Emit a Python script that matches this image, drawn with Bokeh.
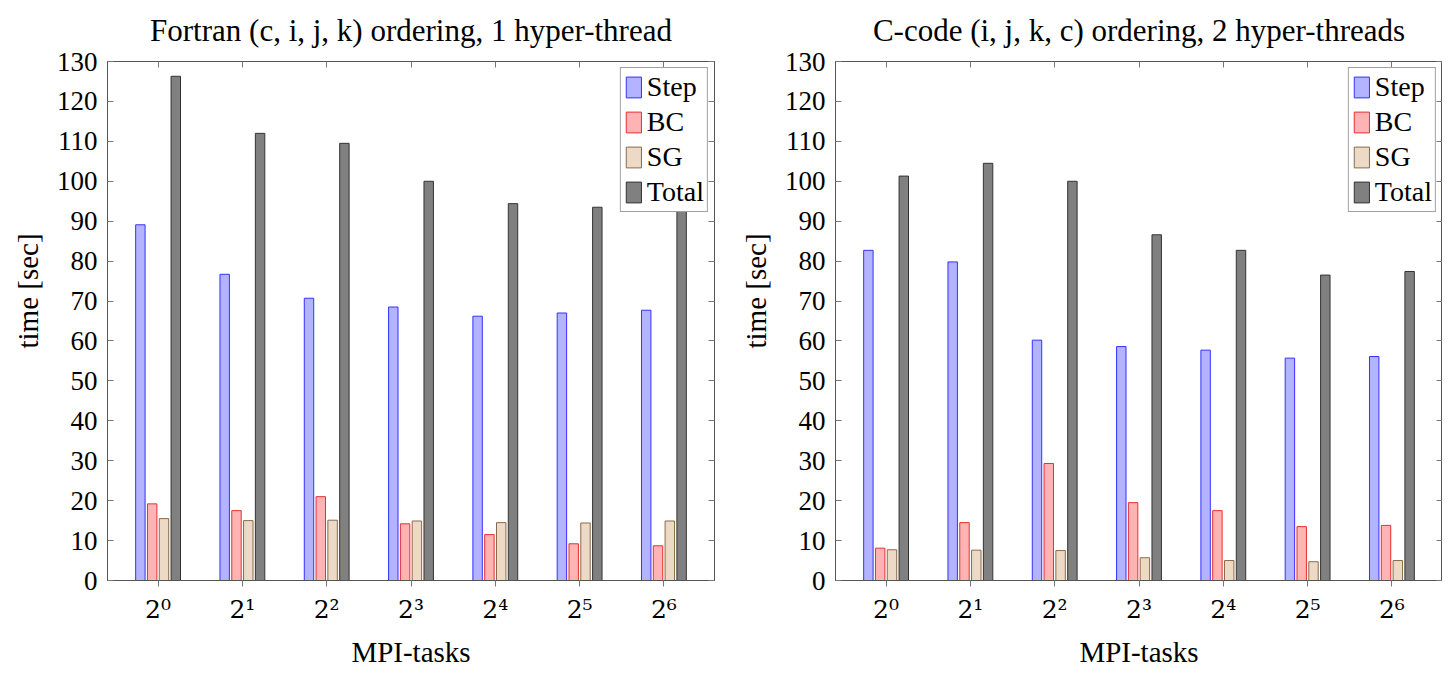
from bokeh.plotting import figure
from bokeh.models import (ColumnDataSource, Range1d, FixedTicker, LinearAxis, Legend,
                          LegendItem, Title)
from bokeh.layouts import row
from bokeh.transform import dodge
from bokeh.embed import file_html
from bokeh.resources import INLINE

# ---- data -------------------------------------------------------------
mpi_tasks = ["2⁰", "2¹", "2²", "2³", "2⁴", "2⁵", "2⁶"]

fortran_step = [89.1, 76.7, 70.7, 68.5, 66.2, 67.0, 67.7]
fortran_bc = [19.2, 17.5, 21.0, 14.2, 11.5, 9.2, 8.7]
fortran_sg = [15.5, 15.0, 15.1, 14.9, 14.5, 14.4, 14.9]
fortran_total = [126.3, 112.0, 109.5, 100.0, 94.4, 93.5, 93.5]

c_step = [82.7, 79.8, 60.2, 58.6, 57.7, 55.7, 56.1]
c_bc = [8.1, 14.5, 29.3, 19.5, 17.5, 13.5, 13.8]
c_sg = [7.7, 7.6, 7.5, 5.7, 5.0, 4.7, 5.0]
c_total = [101.3, 104.5, 100.0, 86.6, 82.7, 76.5, 77.4]

y_ticks = list(range(0, 131, 10))
series_names = ["Step", "BC", "SG", "Total"]

# ---- styles -----------------------------------------------------------
FONT = "Liberation Serif"
TICK_FONT = "DejaVu Serif"
fills = ["#b3b3ff", "#ffb3b3", "#ecdac6", "#808080"]
lines = ["#3333ff", "#e83030", "#8c6a48", "#333333"]
offsets = [-0.21, -0.07, 0.07, 0.21]
BAR_W = 0.112
AX_COL = "#555555"
TICK_COL = "#777777"
FW, FH = 607, 519


def mirror_axis(ticks):
    return LinearAxis(ticker=FixedTicker(ticks=ticks), major_tick_in=6, major_tick_out=0,
                      minor_tick_line_color=None, major_label_text_font_size="1px",
                      major_label_text_color=None, major_label_standoff=0,
                      axis_line_color=AX_COL, major_tick_line_color=TICK_COL)


def make_fig(title, step, bc, sg, total, border_left, border_right):
    idx = list(range(len(mpi_tasks)))
    src = ColumnDataSource(dict(x=idx, Step=step, BC=bc, SG=sg, Total=total))
    p = figure(frame_width=FW, frame_height=FH, output_backend="svg", toolbar_location=None,
               x_range=Range1d(-0.6, 6.6), y_range=Range1d(0, 130),
               min_border_left=border_left, min_border_right=border_right,
               min_border_top=54, min_border_bottom=10)
    p.title.text = title
    p.title.text_font = FONT
    p.title.text_font_size = "31px"
    p.title.text_font_style = "normal"
    p.title.align = "center"
    p.title.text_color = "black"
    p.title.standoff = 24
    p.title.vertical_align = "top"

    items = []
    for name, fc, lc, off in zip(series_names, fills, lines, offsets):
        r = p.vbar(x=dodge("x", off), top=name, width=BAR_W, bottom=0, source=src,
                   fill_color=fc, line_color=lc, line_width=1)
        items.append(LegendItem(label=name, renderers=[r]))

    p.xgrid.visible = False
    p.ygrid.visible = False
    p.outline_line_color = AX_COL
    p.outline_line_width = 1
    p.background_fill_color = "white"
    p.border_fill_color = "white"

    # bottom axis
    xa = p.xaxis[0]
    xa.ticker = FixedTicker(ticks=idx)
    xa.major_label_overrides = {i: lab for i, lab in zip(idx, mpi_tasks)}
    xa.axis_label = "MPI-tasks"
    xa.major_tick_in = 0
    xa.major_tick_out = 6
    xa.major_label_standoff = 8
    xa.axis_label_standoff = 9
    xa.major_label_text_font = TICK_FONT
    xa.major_label_text_font_size = "25px"
    # left axis
    ya = p.yaxis[0]
    ya.ticker = FixedTicker(ticks=y_ticks)
    ya.major_tick_in = 6
    ya.major_tick_out = 0
    ya.major_label_standoff = 10
    ya.major_label_text_font = FONT
    ya.major_label_text_font_size = "27px"
    for ax in (xa, ya):
        ax.minor_tick_line_color = None
        ax.major_label_text_color = "black"
        ax.axis_label_text_font = FONT
        ax.axis_label_text_font_size = "29px"
        ax.axis_label_text_font_style = "normal"
        ax.axis_label_text_color = "black"
        ax.axis_line_color = AX_COL
        ax.major_tick_line_color = TICK_COL

    # y label placed slightly above the frame centre, as in the reference
    ylab = Title(text="time [sec]", align="left", offset=232, standoff=19,
                 text_font=FONT, text_font_size="29px", text_font_style="normal",
                 text_color="black")
    p.add_layout(ylab, "left")

    # mirrored ticks on top and right
    p.add_layout(mirror_axis(idx), "above")
    p.add_layout(mirror_axis(y_ticks), "right")

    legend = Legend(items=items, location="top_right")
    legend.label_text_font = FONT
    legend.label_text_font_size = "28px"
    legend.label_text_color = "black"
    legend.glyph_width = 19
    legend.glyph_height = 26
    legend.label_height = 30
    legend.label_standoff = 4
    legend.spacing = 3
    legend.padding = 3
    legend.margin = 6
    legend.border_line_color = "#444444"
    legend.border_line_width = 1
    legend.background_fill_alpha = 1.0
    p.add_layout(legend)
    return p


p1 = make_fig("Fortran (c, i, j, k) ordering, 1 hyper-thread",
              fortran_step, fortran_bc, fortran_sg, fortran_total, 101, 14)
p2 = make_fig("C-code (i, j, k, c) ordering, 2 hyper-threads",
              c_step, c_bc, c_sg, c_total, 101, 0)

layout = row(p1, p2)
open("out.html", "w").write(file_html(layout, INLINE))
